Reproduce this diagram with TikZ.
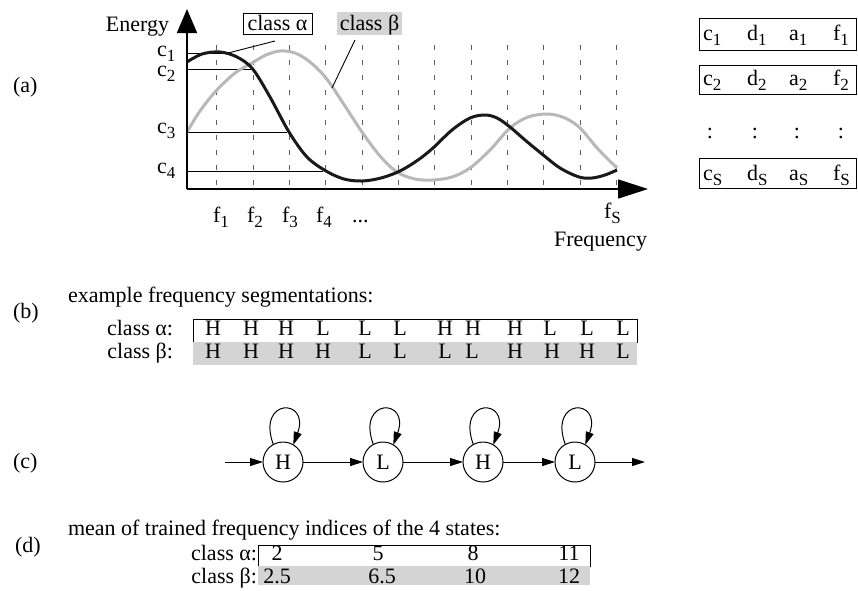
\documentclass[tikz,border=0pt]{standalone}
\usepackage{fontspec}
\setmainfont{Liberation Serif}
\usetikzlibrary{arrows.meta}
\newcommand{\lo}[1]{\raisebox{-5pt}{\fontsize{17}{17}\selectfont #1}}
\definecolor{curvegray}{RGB}{184,184,184}
\definecolor{bandgray}{RGB}{212,212,212}
\definecolor{dashgray}{RGB}{95,95,95}
\definecolor{curveblack}{RGB}{25,25,25}
\begin{document}
\begin{tikzpicture}[x=1pt,y=-1pt,
  every node/.style={inner sep=0pt, outer sep=0pt, font=\fontsize{22}{26}\selectfont},
  lbl/.style={anchor=base},
  lblw/.style={anchor=base west},
  lble/.style={anchor=base east},
  thinline/.style={line width=0.9pt},
  blackcurve/.style={line width=3pt, curveblack},
  greycurve/.style={line width=3pt, curvegray},
  gridline/.style={dashgray, line width=0.9pt, dash pattern=on 5pt off 10pt},
  axisline/.style={line width=1.6pt},
  whitebox/.style={draw, line width=1pt, fill=white},
  greybox/.style={fill=bandgray},
  state/.style={circle, draw, line width=1pt, minimum size=40pt},
  arr/.style={-{Triangle[length=13pt,width=8pt]}, line width=1pt}
]
\useasboundingbox (0,0) rectangle (858,590);

% ---------- (a) ----------
\node[lblw] (la) at (13,92) {(a)};

\foreach \i in {0,...,11}
  \draw[gridline] ({216.7+36.36*\i},45) -- ({216.7+36.36*\i},189);

% level lines
\coordinate (o1) at (187,53);  \coordinate (e1) at (228,53);
\coordinate (o2) at (187,69);  \coordinate (e2) at (252,69);
\coordinate (o3) at (187,132); \coordinate (e3) at (287,132);
\coordinate (o4) at (187,171); \coordinate (e4) at (323,171);
\draw[thinline] (o1) -- (e1);
\draw[thinline] (o2) -- (e2);
\draw[thinline] (o3) -- (e3);
\draw[thinline] (o4) -- (e4);

% curves
\draw[greycurve] plot[smooth, tension=0.55] coordinates {
 (187,132) (200,111) (216,91) (235,73) (252,63) (266,55) (280,51) (295,53)
 (310,62) (326,78) (343,103) (362,132) (380,156) (397,172) (415,179) (433,180)
 (452,177) (470,168) (490,150) (510,128) (528,117) (548,114) (565,118)
 (580,128) (598,149) (617,168)};
\draw[blackcurve] plot[smooth, tension=0.55] coordinates {
 (187,62) (202,54) (220,52) (237,57) (252.7,69) (270,97) (289,132) (307,157)
 (326,171) (344,179) (362,181) (381,178) (400,171) (418,160) (433,148)
 (452,130) (470,118) (485,115) (497,118) (510,127) (525,140) (542,154)
 (560,168) (579,177) (592,178) (605,175) (617,170)};

% axes
\coordinate (origin) at (187,189);
\coordinate (ytip) at (187,9);
\coordinate (xtip) at (648,189);
\draw[axisline, -{Triangle[length=24pt,width=20pt]}] (origin) -- (ytip);
\draw[axisline, -{Triangle[length=30pt,width=19pt]}] (origin) -- (xtip);

\node[lble] (energy) at (169,31) {Energy};
\node[lblw] (c1) at (157,56) {c\lo{1}};
\node[lblw] (c2) at (157,76) {c\lo{2}};
\node[lblw] (c3) at (157,133) {c\lo{3}};
\node[lblw] (c4) at (157,173) {c\lo{4}};

\node[lblw] (f1) at (213,222) {f\lo{1}};
\node[lblw] (f2) at (247,222) {f\lo{2}};
\node[lblw] (f3) at (282,222) {f\lo{3}};
\node[lblw] (f4) at (316,222) {f\lo{4}};
\node[lblw] (fdots) at (352,222) {...};
\node[lblw] (fS) at (604,218) {f\lo{S}};
\node[lble] (freq) at (647,246) {Frequency};

% class labels
\node[whitebox, minimum width=69pt, minimum height=21pt] (alphabox) at (277.5,23.5) {};
\node[lbl] (alphatxt) at (277.5,30) {class α};
\node[greybox, minimum width=65pt, minimum height=23pt] (betabox) at (369.5,23.5) {};
\node[lbl] (betatxt) at (369.5,30) {class β};
\coordinate (alphaA) at (275,41);
\coordinate (betaA) at (355,40);
\coordinate (betaB) at (332,88);
\draw[thinline] (alphaA) -- (e1);
\draw[thinline] (betaA) -- (betaB);

% parameter table
\node[whitebox, minimum width=157pt, minimum height=32pt, anchor=north west] (row1) at (699,18) {};
\node[whitebox, minimum width=157pt, minimum height=29pt, anchor=north west] (row2) at (699,65) {};
\node[whitebox, minimum width=157pt, minimum height=30pt, anchor=north west] (rowS) at (699,158) {};
\node[lblw] (t1c) at (703,40) {c\lo{1}};
\node[lblw] (t1d) at (747,40) {d\lo{1}};
\node[lblw] (t1a) at (789,40) {a\lo{1}};
\node[lblw] (t1f) at (833,40) {f\lo{1}};
\node[lblw] (t2c) at (703,85) {c\lo{2}};
\node[lblw] (t2d) at (747,85) {d\lo{2}};
\node[lblw] (t2a) at (789,85) {a\lo{2}};
\node[lblw] (t2f) at (833,85) {f\lo{2}};
\node[lbl] (tdc) at (710,138) {:};
\node[lbl] (tdd) at (755,138) {:};
\node[lbl] (tda) at (797,138) {:};
\node[lbl] (tdf) at (841,138) {:};
\node[lblw] (tSc) at (703,180) {c\lo{S}};
\node[lblw] (tSd) at (747,180) {d\lo{S}};
\node[lblw] (tSa) at (789,180) {a\lo{S}};
\node[lblw] (tSf) at (833,180) {f\lo{S}};

% ---------- (b) ----------
\node[lblw] (lb) at (13,318) {(b)};
\node[lblw] (extitle) at (68,302) {example frequency segmentations:};
\node[lble] (bA) at (173,335) {class α:};
\node[lble] (bB) at (173,358) {class β:};
\node[whitebox, minimum width=444pt, minimum height=23pt, anchor=north west] (segA) at (193,319) {};
\node[greybox, minimum width=444pt, minimum height=23pt, anchor=north west] (segB) at (193,342) {};
\foreach \x/\s [count=\k] in {213/H,251/H,286/H,323/L,365/L,400/L,445/H,473/H,515/H,550/L,587/L,623/L}
  \node[lbl] (sa\k) at (\x,335) {\s};
\foreach \x/\s [count=\k] in {213/H,251/H,286/H,323/H,365/L,400/L,445/L,472/L,515/H,552/H,587/H,623/L}
  \node[lbl] (sb\k) at (\x,358) {\s};

% ---------- (c) ----------
\node[lblw] (lc) at (13,468) {(c)};
\node[state] (h1) at (283,462) {H};
\node[state] (l1) at (383,462) {L};
\node[state] (h2) at (483,462) {H};
\node[state] (l2) at (575,462) {L};
\coordinate (cin) at (225,462);
\coordinate (cout) at (645,462);
\draw[arr] (cin) -- (h1);
\draw[arr] (h1) -- (l1);
\draw[arr] (l1) -- (h2);
\draw[arr] (h2) -- (l2);
\draw[arr] (l2) -- (cout);
\foreach \n in {h1,l1,h2,l2}
  \draw[arr] (\n.119) .. controls +(110:50pt) and +(70:50pt) .. (\n.59);

% ---------- (d) ----------
\node[lblw] (ld) at (15,552) {(d)};
\node[lblw] (meantitle) at (68,535) {mean of trained frequency indices of the 4 states:};
\node[lble] (dA) at (257,560) {class α:};
\node[lble] (dB) at (257,583) {class β:};
\node[whitebox, minimum width=332pt, minimum height=21pt, anchor=north west] (meanA) at (258,545) {};
\node[greybox, minimum width=332pt, minimum height=19pt, anchor=north west] (meanB) at (258,566) {};
\node[lbl] (ma1) at (277,560) {2};
\node[lbl] (ma2) at (378,560) {5};
\node[lbl] (ma3) at (473,560) {8};
\node[lbl] (ma4) at (569,560) {11};
\node[lbl] (mb1) at (277,583) {2.5};
\node[lbl] (mb2) at (382,583) {6.5};
\node[lbl] (mb3) at (475,583) {10};
\node[lbl] (mb4) at (569,583) {12};
\end{tikzpicture}
\end{document}
